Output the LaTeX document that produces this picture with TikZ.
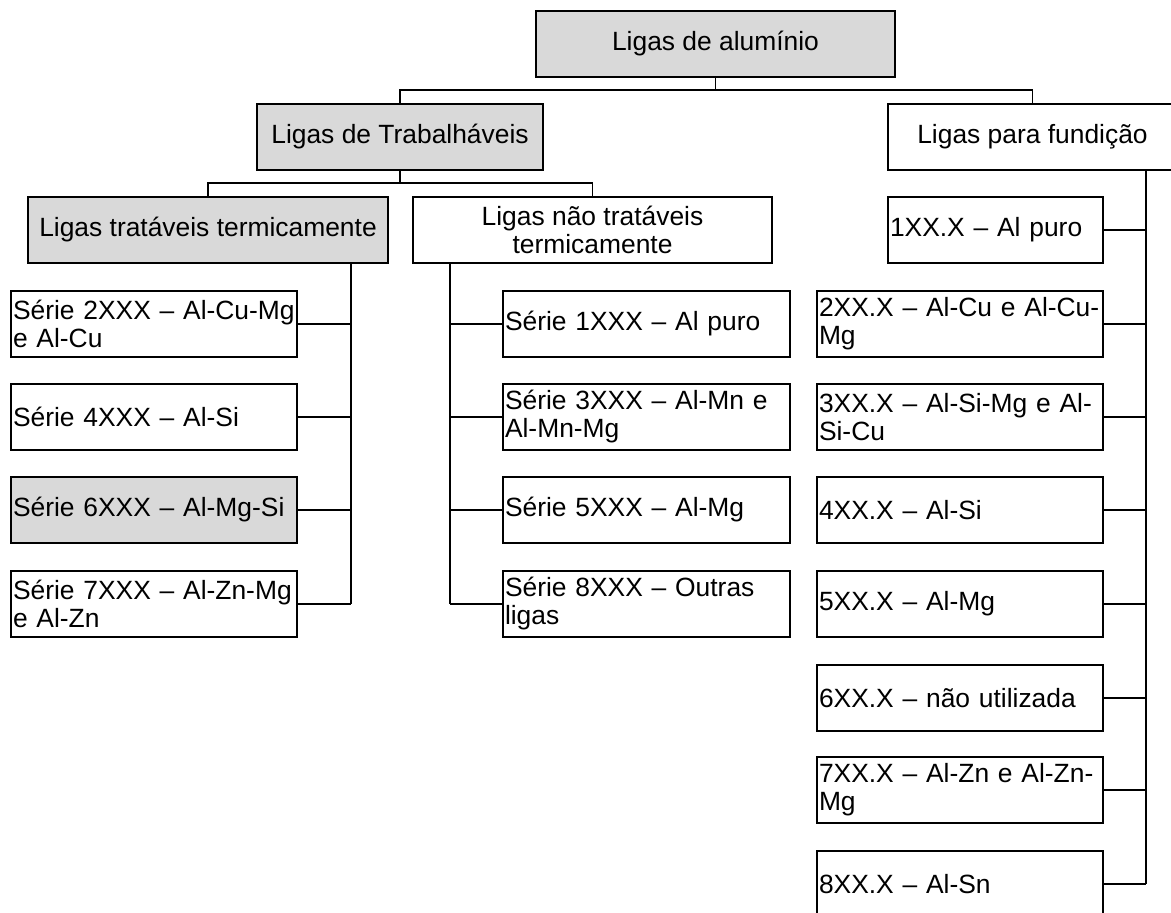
\documentclass[tikz,border=0pt]{standalone}
\usepackage{fontspec}
\setmainfont{Liberation Sans}
\definecolor{boxgray}{HTML}{D9D9D9}
\begin{document}
\begin{tikzpicture}[x=1pt,y=-1pt,
  every node/.style={font=\fontsize{26.4}{28}\selectfont},
  box/.style={draw=black, line width=2.4pt, inner xsep=2pt, inner ysep=0pt,
    outer sep=0pt, anchor=north west, minimum height=66pt, fill=white},
  head/.style={box, align=center, minimum width=#1},
  leaf/.style={box, align=left, text width=#1-4pt, minimum width=#1},
  shaded/.style={fill=boxgray},
  link/.style={draw=black, line width=1.2pt},
  trunk/.style={draw=black, line width=1.8pt}]
\useasboundingbox (0,0) rectangle (1171,913);
\clip (0,0) rectangle (1171,913);
\fill[white] (0,0) rectangle (1171,913);

% top level
\node[head=359pt, shaded] (root) at (536,11) {Ligas de alumínio};
\node[head=286pt, shaded] (trab) at (257,104) {Ligas de Trabalháveis};
\node[head=289pt] (fund) at (888,104) {Ligas para fundição};

% second level
\node[head=360pt, shaded] (trat) at (28,197) {Ligas tratáveis termicamente};
\node[head=359pt] (ntrat) at (413,197) {Ligas não tratáveis\\termicamente};
\node[leaf=215pt] (c1) at (888,197) {1XX.X – Al puro};

% heat-treatable series
\node[leaf=286pt] (s2) at (11,291) {Série 2XXX – Al-Cu-Mg\\e Al-Cu};
\node[leaf=286pt] (s4) at (11,384) {Série 4XXX – Al-Si};
\node[leaf=286pt, shaded] (s6) at (11,477) {Série 6XXX – Al-Mg-Si};
\node[leaf=286pt] (s7) at (11,571) {Série 7XXX – Al-Zn-Mg\\e Al-Zn};

% non heat-treatable series
\node[leaf=287pt] (s1) at (503,291) {Série 1XXX – Al puro};
\node[leaf=287pt] (s3) at (503,384) {Série 3XXX – Al-Mn e\\Al-Mn-Mg};
\node[leaf=287pt] (s5) at (503,477) {Série 5XXX – Al-Mg};
\node[leaf=287pt] (s8) at (503,571) {Série 8XXX – Outras\\ligas};

% casting alloys
\node[leaf=286pt] (c2) at (817,291) {2XX.X – Al-Cu e Al-Cu-\\Mg};
\node[leaf=286pt] (c3) at (817,384) {3XX.X – Al-Si-Mg e Al-\\Si-Cu};
\node[leaf=286pt] (c4) at (817,477) {4XX.X – Al-Si};
\node[leaf=286pt] (c5) at (817,571) {5XX.X – Al-Mg};
\node[leaf=286pt] (c6) at (817,665) {6XX.X – não utilizada};
\node[leaf=286pt] (c7) at (817,757) {7XX.X – Al-Zn e Al-Zn-\\Mg};
\node[leaf=286pt] (c8) at (817,851) {8XX.X – Al-Sn};

% connectors from the root
\coordinate (busA) at (0,90);
\draw[link] (root.south) -- (root.south |- busA);
\draw[link] (trab.north) |- (busA -| root.south) -| (fund.north);

% connectors from the wrought alloys
\coordinate (busB) at (0,183);
\draw[link] (trab.south) -- (trab.south |- busB);
\draw[link] (trat.north) |- (busB -| trab.south) -| (ntrat.north);

% trunks
\coordinate (tL) at (351,0);
\coordinate (tM) at (450,0);
\coordinate (tR) at (1146,0);
\draw[trunk] (tL |- trat.south) -- (tL |- s7.east);
\draw[trunk] (tM |- ntrat.south) -- (tM |- s8.west);
\draw[trunk] (tR |- fund.south) -- (tR |- c8.east);

% branches
\foreach \n in {s2,s4,s6,s7} \draw[link] (\n.east) -- (\n.east -| tL);
\foreach \n in {s1,s3,s5,s8} \draw[link] (\n.west) -- (\n.west -| tM);
\foreach \n in {c1,c2,c3,c4,c5,c6,c7,c8} \draw[link] (\n.east) -- (\n.east -| tR);
\end{tikzpicture}
\end{document}
